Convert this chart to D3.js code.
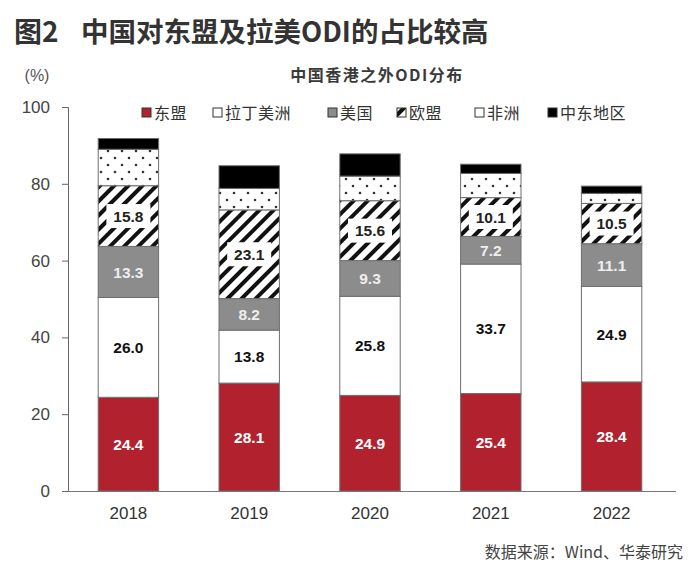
<!DOCTYPE html>
<html><head><meta charset="utf-8">
<script src="https://cdn.jsdelivr.net/npm/d3@7"></script>
<style>body{margin:0;background:#fff}</style>
</head><body>
<svg id="c" width="700" height="579"></svg>
<script>
const years = ["2018","2019","2020","2021","2022"];
const seriesNames = ["东盟","拉丁美洲","美国","欧盟","非洲","中东地区"];
const asean   = [24.4, 28.1, 24.9, 25.4, 28.4];
const latam   = [26.0, 13.8, 25.8, 33.7, 24.9];
const usa     = [13.3, 8.2, 9.3, 7.2, 11.1];
const eu      = [15.8, 23.1, 15.6, 10.1, 10.5];
const africa  = [9.5, 5.6, 6.4, 6.3, 2.6];
const mideast = [2.8, 5.9, 5.8, 2.4, 1.9];
const yTicks = [0, 20, 40, 60, 80, 100];
const labelled = [true, true, true, true, false, false];

const allSeries = [asean, latam, usa, eu, africa, mideast];
const rows = years.map((y, i) => {
  const r = {year: y};
  seriesNames.forEach((n, k) => r[n] = allSeries[k][i]);
  return r;
});

const svg = d3.select("#c");
const defs = svg.append("defs");
const hatch = defs.append("pattern").attr("id","hatch").attr("patternUnits","userSpaceOnUse")
  .attr("width",10).attr("height",10).attr("patternTransform","rotate(45)");
hatch.append("rect").attr("width",10).attr("height",10).attr("fill","#fff");
hatch.append("rect").attr("x",0).attr("width",4).attr("height",10).attr("fill","#111");
const dots = defs.append("pattern").attr("id","dots").attr("patternUnits","userSpaceOnUse")
  .attr("width",14).attr("height",14);
dots.append("rect").attr("width",14).attr("height",14).attr("fill","#fff");
dots.append("circle").attr("cx",3).attr("cy",4).attr("r",1.3).attr("fill","#333");
dots.append("circle").attr("cx",10).attr("cy",11).attr("r",1.3).attr("fill","#333");

const fills = ["#b2222e", "#ffffff", "#8c8c8c", "url(#hatch)", "url(#dots)", "#000000"];
const textColors = ["#fff", "#111", "#eeeeee", "#222", "#000", "#fff"];

// Title
const titleFont = "'Noto Sans CJK SC', sans-serif";
svg.append("text").attr("x",14).attr("y",42)
  .attr("font-family",titleFont).attr("font-weight","bold")
  .attr("font-size",28).attr("fill","#333").text("图2");
svg.append("text").attr("x",81).attr("y",42)
  .attr("font-family",titleFont).attr("font-weight","bold")
  .attr("font-size",27.5).attr("fill","#333").text("中国对东盟及拉美ODI的占比较高");

svg.append("text").attr("x",377).attr("y",81).attr("text-anchor","middle")
  .attr("font-family","'Noto Sans CJK SC', sans-serif").attr("font-weight","bold")
  .attr("font-size",16).attr("letter-spacing",1.5).attr("fill","#3a3a3a").text("中国香港之外ODI分布");

svg.append("text").attr("x",37).attr("y",81).attr("text-anchor","middle")
  .attr("font-family","'Liberation Sans', Arial, sans-serif")
  .attr("font-size",16).attr("fill","#555").text("(%)");

const x = d3.scaleBand().domain(years).range([68, 672]).paddingInner(0.5).paddingOuter(0.25);
const y = d3.scaleLinear().domain([0, 100]).range([491, 107]);

// axes
const yAxis = svg.append("g").attr("transform","translate(68,0)")
  .call(d3.axisLeft(y).tickValues(yTicks).tickSize(6).tickPadding(12));
yAxis.select(".domain").attr("stroke","#666");
yAxis.selectAll(".tick line").attr("stroke","#666");
yAxis.selectAll("text").attr("font-family","'Liberation Sans', Arial, sans-serif")
  .attr("font-size",17).attr("fill","#444");

const stack = d3.stack().keys(seriesNames)(rows);

const g = svg.append("g");
stack.forEach((layer, k) => {
  g.selectAll(null).data(layer).enter().append("rect")
    .attr("x", d => x(d.data.year))
    .attr("width", x.bandwidth())
    .attr("y", d => y(d[1]))
    .attr("height", d => y(d[0]) - y(d[1]))
    .attr("fill", fills[k])
    .attr("stroke", "#6e6e6e").attr("stroke-width", 1);
});

// labels
stack.forEach((layer, k) => {
  if (!labelled[k]) return;
  layer.forEach(d => {
    const cx = x(d.data.year) + x.bandwidth()/2;
    const cy = (y(d[0]) + y(d[1]))/2;
    const v = d[1] - d[0];
    if (k === 3) {
      g.append("rect").attr("x", cx-22).attr("y", cy-12).attr("width",44).attr("height",24)
        .attr("fill","#fff");
    }
    g.append("text").attr("x", cx).attr("y", cy).attr("dy","0.36em")
      .attr("text-anchor","middle")
      .attr("font-family","'Liberation Sans', Arial, sans-serif").attr("font-weight","bold")
      .attr("font-size", 15.5).attr("fill", textColors[k])
      .text(v.toFixed(1));
  });
});

const xAxis = svg.append("g").attr("transform","translate(0,491)")
  .call(d3.axisBottom(x).tickSize(0).tickPadding(16));
xAxis.select(".domain").attr("stroke","#777").attr("d","M68,0.5H676");
xAxis.selectAll("text").attr("font-family","'Liberation Sans', Arial, sans-serif")
  .attr("font-size",17).attr("fill","#333");

// legend
const legendX = [142, 213, 328, 397, 475, 548];
const lg = svg.append("g");
seriesNames.forEach((n, k) => {
  lg.append("rect").attr("x", legendX[k]).attr("y", 108).attr("width", 9).attr("height", 9)
    .attr("fill", k === 3 ? "url(#hatch)" : (k === 4 ? "#fff" : fills[k]))
    .attr("stroke", "#333").attr("stroke-width", 1);
  lg.append("text").attr("x", legendX[k] + 12).attr("y", 119)
    .attr("font-family","'Noto Sans CJK SC', sans-serif")
    .attr("font-size", 16).attr("letter-spacing", 0.5).attr("fill","#333").text(n);
});

svg.append("text").attr("x",683).attr("y",558).attr("text-anchor","end")
  .attr("font-family","'Noto Sans CJK SC', sans-serif")
  .attr("font-size",16).attr("fill","#444").text("数据来源：Wind、华泰研究");
</script>
</body></html>
